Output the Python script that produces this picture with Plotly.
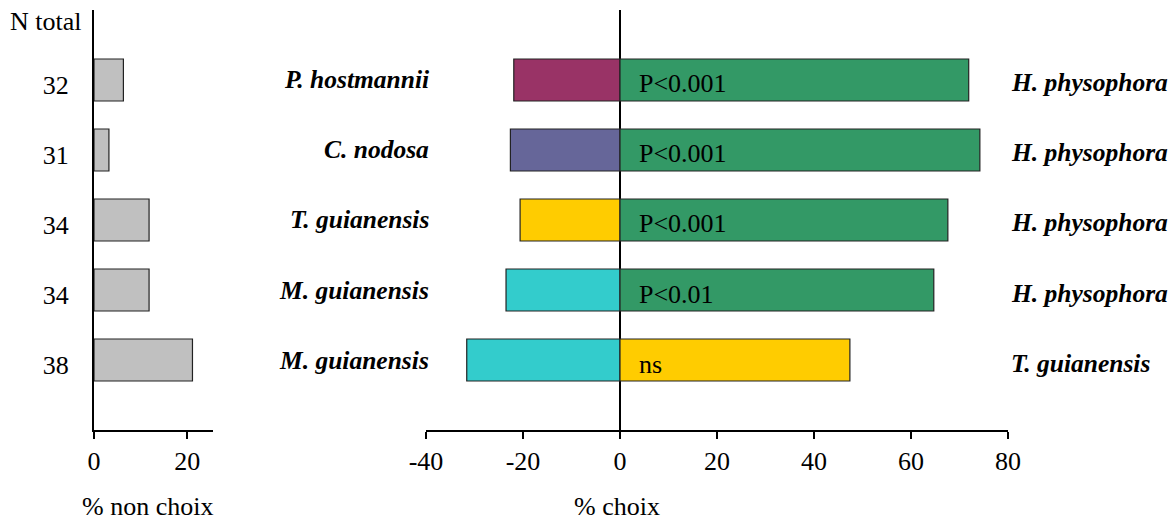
import plotly.graph_objects as go

W, H = 1173, 519

# ---- data ----
rows = [0, 1, 2, 3, 4]
n_total = ["32", "31", "34", "34", "38"]
non_choix = [6.3, 3.2, 11.8, 11.8, 21.1]
left_species = ["P. hostmannii", "C. nodosa", "T. guianensis", "M. guianensis", "M. guianensis"]
left_pct = [-21.9, -22.6, -20.6, -23.5, -31.6]
right_species = ["H. physophora", "H. physophora", "H. physophora", "H. physophora", "T. guianensis"]
right_pct = [71.9, 74.2, 67.6, 64.7, 47.4]
p_values = ["P<0.001", "P<0.001", "P<0.001", "P<0.01", "ns"]
left_colors = ["#993366", "#666699", "#FFCC00", "#33CCCC", "#33CCCC"]
right_colors = ["#339966", "#339966", "#339966", "#339966", "#FFCC00"]
x1_ticks = [0, 20]
x2_ticks = [-40, -20, 0, 20, 40, 60, 80]
x2_ticktext = ["-40", "-20", "0", "20", "40", "60", "80"]

FONT = "Liberation Serif"


def px(x):
    return x / W


def py(y):
    return 1 - y / H


fig = go.Figure()

fig.add_trace(go.Bar(
    x=non_choix, y=rows, orientation="h", xaxis="x", yaxis="y",
    width=0.6, marker=dict(color="#C0C0C0", line=dict(color="#222222", width=1.2)),
    showlegend=False, hoverinfo="x",
))
fig.add_trace(go.Bar(
    x=left_pct, y=rows, orientation="h", xaxis="x2", yaxis="y2",
    width=0.6, marker=dict(color=left_colors, line=dict(color="#222222", width=1.2)),
    showlegend=False, hoverinfo="x",
))
fig.add_trace(go.Bar(
    x=right_pct, y=rows, orientation="h", xaxis="x2", yaxis="y2",
    width=0.6, marker=dict(color=right_colors, line=dict(color="#222222", width=1.2)),
    showlegend=False, hoverinfo="x",
))

ydom = [py(430), py(10)]

fig.update_layout(
    template="none",
    width=W, height=H,
    margin=dict(l=0, r=0, t=0, b=0, pad=0, autoexpand=False),
    paper_bgcolor="white", plot_bgcolor="white",
    font=dict(family=FONT, size=26, color="black"),
    barmode="overlay",
    xaxis=dict(
        domain=[px(94), px(213)], range=[0, 25.5], anchor="y", automargin=False,
        showline=True, linecolor="black", linewidth=2,
        ticks="outside", ticklen=7, tickwidth=2, tickcolor="black",
        tickvals=x1_ticks, showgrid=False, zeroline=False, fixedrange=True,
    ),
    yaxis=dict(
        domain=ydom, range=[5, -1], anchor="x", automargin=False,
        showline=True, linecolor="black", linewidth=2,
        ticks="", tickvals=rows, ticktext=n_total, ticklabelstandoff=18,
        ticklabelshift=-5,
        showgrid=False, zeroline=False, fixedrange=True,
    ),
    xaxis2=dict(
        domain=[px(426), px(1008)], range=[-40, 80], anchor="y2", automargin=False,
        showline=True, linecolor="black", linewidth=2,
        ticks="outside", ticklen=7, tickwidth=2, tickcolor="black",
        tickvals=x2_ticks, ticktext=x2_ticktext, showgrid=False,
        zeroline=True, zerolinecolor="black", zerolinewidth=1.5, fixedrange=True,
    ),
    yaxis2=dict(
        domain=ydom, range=[5, -1], anchor="x2", automargin=False,
        showline=False, showticklabels=False, ticks="",
        showgrid=False, zeroline=False, fixedrange=True,
    ),
)

SP = 25.5
ann = []
ann.append(dict(text="N total", xref="paper", yref="paper", x=px(84), y=py(22),
                xanchor="right", yanchor="middle", showarrow=False))
ann.append(dict(text="% non choix", xref="paper", yref="paper", x=px(147), y=py(506),
                xanchor="center", yanchor="middle", showarrow=False))
ann.append(dict(text="% choix", xref="paper", yref="paper", x=px(617), y=py(506),
                xanchor="center", yanchor="middle", showarrow=False))
for r, s in zip(rows, left_species):
    ann.append(dict(text="<b><i>%s</i></b>" % s, xref="paper", yref="y2", x=px(431), y=r,
                    xanchor="right", yanchor="middle", showarrow=False,
                    font=dict(size=SP)))
for r, s in zip(rows, right_species):
    ann.append(dict(text="<b><i>%s</i></b>" % s, xref="paper", yref="y2", x=px(1009), y=r,
                    xanchor="left", yanchor="middle", yshift=-3, showarrow=False,
                    font=dict(size=SP)))
for r, p in zip(rows, p_values):
    ann.append(dict(text=p, xref="x2", yref="y2", x=0, y=r, xshift=17,
                    xanchor="left", yanchor="middle", yshift=-4, showarrow=False))
fig.update_layout(annotations=ann)

fig.write_html(
    "out.html",
    config={"displayModeBar": False},
    post_script="document.body.style.margin='0px';document.body.style.overflow='hidden';",
)
